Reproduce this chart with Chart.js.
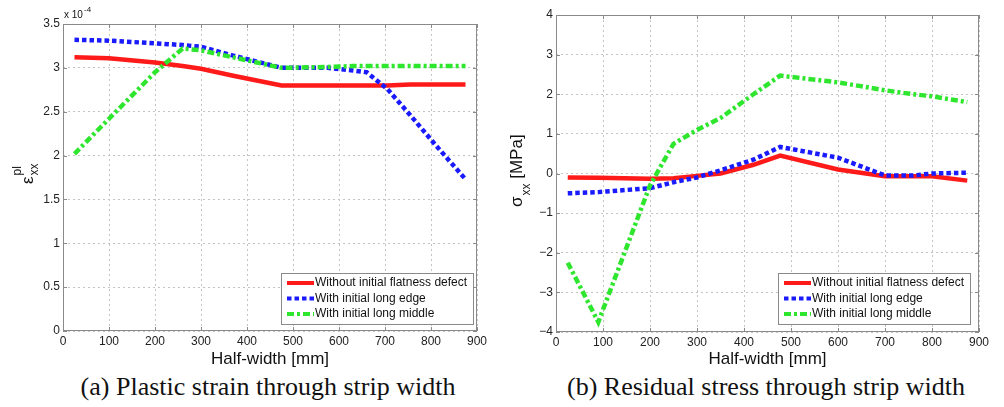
<!DOCTYPE html>
<html>
<head>
<meta charset="utf-8">
<script src="https://cdn.jsdelivr.net/npm/chart.js@4.4.1/dist/chart.umd.min.js"></script>
<style>
  html, body { margin: 0; padding: 0; background: #fff; }
  #wrap { position: relative; width: 1004px; height: 407px; overflow: hidden; }
  .panel { position: absolute; top: 0; height: 372px; }
  #left  { left: 0;     width: 500px; }
  #right { left: 500px; width: 504px; }
  .caption {
    position: absolute; top: 372px; line-height: 30px;
    font-family: "Liberation Serif", "Times New Roman", serif; font-size: 26px;
    color: #111; white-space: nowrap; transform: translateX(-50%);
  }
</style>
</head>
<body>
<div id="wrap">
  <div class="panel" id="left"><canvas id="strainChart"></canvas></div>
  <div class="panel" id="right"><canvas id="stressChart"></canvas></div>
  <div class="caption" style="left:268px">(a) Plastic strain through strip width</div>
  <div class="caption" style="left:766px">(b) Residual stress through strip width</div>
</div>
<script>
// ── Data ───────────────────────────────────────────────────────────
const seriesNames = ["Without initial flatness defect", "With initial long edge", "With initial long middle"]

const widthTicks  = [0, 100, 200, 300, 400, 500, 600, 700, 800, 900]
const strainTicks = [0, 0.5, 1, 1.5, 2, 2.5, 3, 3.5]          // x 10^-4
const stressTicks = [-4, -3, -2, -1, 0, 1, 2, 3, 4]             // MPa

// (a) plastic strain, x 10^-4
const strainX      = [25, 100, 200, 260, 300, 370, 475, 575, 630, 660, 705, 755, 810, 875]
const strainFlat   = [3.12, 3.11, 3.06, 3.02, 2.99, 2.91, 2.80, 2.80, 2.80, 2.80, 2.80, 2.81, 2.81, 2.81]
const strainEdge   = [3.32, 3.31, 3.28, 3.26, 3.24, 3.14, 3.00, 3.00, 2.97, 2.95, 2.76, 2.46, 2.12, 1.73]
const strainMiddle = [2.02, 2.42, 2.95, 3.22, 3.20, 3.12, 3.00, 3.01, 3.02, 3.02, 3.02, 3.02, 3.02, 3.02]

// (b) residual stress, MPa
const stressX      = [25, 90, 200, 250, 300, 350, 420, 477, 600, 700, 760, 800, 875]
const stressFlat   = [-0.10, -0.11, -0.13, -0.12, -0.06, 0.00, 0.22, 0.45, 0.10, -0.07, -0.07, -0.07, -0.18]
const stressEdge   = [-0.50, -0.47, -0.37, -0.22, -0.10, 0.08, 0.35, 0.67, 0.40, -0.05, -0.05, 0.00, 0.02]
const stressMiddle = [-2.25, -3.75, -0.30, 0.75, 1.10, 1.40, 2.00, 2.47, 2.30, 2.10, 2.00, 1.95, 1.80]

// ── Styling helpers ────────────────────────────────────────────────
const SANS = "'Liberation Sans', Arial, Helvetica, sans-serif"
const styles = [
  { color: "#ff1a1a", dash: [],           order: 2 },
  { color: "#1a1aff", dash: [4.5, 3],     order: 1 },
  { color: "#2ee62e", dash: [7, 3, 3, 3], order: 0 },
]

const toPoints = (xs, ys) => xs.map((x, i) => ({ x, y: ys[i] }))

const makeSets = (xs, lists) => lists.map((ys, i) => ({
  label: seriesNames[i],
  data: toPoints(xs, ys),
  borderColor: styles[i].color,
  borderDash: styles[i].dash,
  borderWidth: 4.5,
  borderCapStyle: "butt",
  pointRadius: 0,
  tension: 0,
  fill: false,
  order: styles[i].order,
}))

// MATLAB-ish frame: box, inward ticks, in-plot legend, rich y title
const matlabFrame = {
  id: "matlabFrame",
  afterDraw(chart, args, opts) {
    const { ctx, chartArea: a, scales: { x, y } } = chart
    const L = Math.round(a.left), R = Math.round(a.right)
    const T = Math.round(a.top),  B = Math.round(a.bottom)
    ctx.save()
    ctx.strokeStyle = "#8a8a8a"
    ctx.lineWidth = 1
    ctx.setLineDash([])
    ctx.beginPath()
    x.ticks.forEach(t => {
      const px = Math.round(x.getPixelForValue(t.value)) + 0.5
      ctx.moveTo(px, B); ctx.lineTo(px, B - 4)
      ctx.moveTo(px, T); ctx.lineTo(px, T + 4)
    })
    y.ticks.forEach(t => {
      const py = Math.round(y.getPixelForValue(t.value)) + 0.5
      ctx.moveTo(L, py); ctx.lineTo(L + 4, py)
      ctx.moveTo(R, py); ctx.lineTo(R - 4, py)
    })
    ctx.stroke()
    ctx.strokeRect(L + 0.5, T + 0.5, R - L - 1, B - T - 1)

    // legend
    const lg = opts.legend
    const bx = R - lg.right - lg.w, by = B - lg.bottom - lg.h
    ctx.fillStyle = "#fff"
    ctx.fillRect(bx, by, lg.w, lg.h)
    ctx.strokeRect(bx + 0.5, by + 0.5, lg.w, lg.h)
    ctx.font = `12px ${SANS}`
    ctx.textBaseline = "middle"
    chart.data.datasets.forEach((ds, i) => {
      const ry = by + 10 + i * 15.5
      ctx.save()
      ctx.strokeStyle = ds.borderColor
      ctx.lineWidth = 4
      ctx.lineCap = "butt"
      ctx.setLineDash(ds.borderDash)
      ctx.beginPath(); ctx.moveTo(bx + 6, ry); ctx.lineTo(bx + 33, ry); ctx.stroke()
      ctx.restore()
      ctx.fillStyle = "#111"
      ctx.fillText(ds.label, bx + 34, ry)
    })

    ctx.textBaseline = "alphabetic"
    ctx.fillStyle = "#111"
    opts.drawTitle(ctx)
    ctx.restore()
  }
}

const tickFont = { family: SANS, size: 12 }
const axisTitleFont = { family: SANS, size: 17 }

function buildOptions({ pad, yWidth, xHeight, yMin, yMax, yStep, yFmt, frame }) {
  return {
    responsive: true,
    maintainAspectRatio: false,
    animation: false,
    layout: { padding: pad },
    plugins: { legend: { display: false }, tooltip: { enabled: false }, matlabFrame: frame },
    scales: {
      x: {
        type: "linear",
        min: widthTicks[0], max: widthTicks[widthTicks.length - 1],
        ticks: { stepSize: widthTicks[1] - widthTicks[0], padding: 3, autoSkip: false, maxRotation: 0, font: tickFont, color: "#222" },
        grid: { color: "#c4c4c4", drawTicks: false },
        border: { display: false, dash: [2, 3] },
        title: { display: true, text: "Half-width [mm]", font: axisTitleFont, color: "#111", padding: { top: 0, bottom: 2 } },
        afterFit: s => { s.height = xHeight },
      },
      y: {
        type: "linear",
        min: yMin, max: yMax,
        ticks: { stepSize: yStep, padding: 3, autoSkip: false, font: tickFont, color: "#222", callback: yFmt },
        grid: { color: "#c4c4c4", drawTicks: false },
        border: { display: false, dash: [2, 3] },
        afterFit: s => { s.width = yWidth },
      }
    }
  }
}

// ── (a) Plastic strain ─────────────────────────────────────────────
new Chart(document.getElementById("strainChart"), {
  type: "line",
  data: { datasets: makeSets(strainX, [strainFlat, strainEdge, strainMiddle]) },
  options: buildOptions({
    pad: { left: 0, top: 24, right: 23, bottom: 0 },
    yWidth: 63, xHeight: 41,
    yMin: strainTicks[0], yMax: strainTicks[strainTicks.length - 1], yStep: 0.5,
    yFmt: v => String(v),
    frame: {
      legend: { w: 192, h: 51, right: 4, bottom: 7 },
      drawTitle(ctx) {
        ctx.save()
        ctx.translate(33, 184)
        ctx.rotate(-Math.PI / 2)
        ctx.font = `17px ${SANS}`
        ctx.fillText("\u03b5", 0, 0)
        const w = ctx.measureText("\u03b5").width + 1
        ctx.font = `12px ${SANS}`
        ctx.fillText("pl", w, -12)
        ctx.fillText("xx", w, 5)
        ctx.restore()
        // exponent above the axis
        ctx.font = `10px ${SANS}`
        ctx.fillText("x 10", 64, 18)
        ctx.font = `8px ${SANS}`
        ctx.fillText("-4", 84, 12)
      }
    }
  }),
  plugins: [matlabFrame]
})

// ── (b) Residual stress ────────────────────────────────────────────
new Chart(document.getElementById("stressChart"), {
  type: "line",
  data: { datasets: makeSets(stressX, [stressFlat, stressEdge, stressMiddle]) },
  options: buildOptions({
    pad: { left: 0, top: 15, right: 25, bottom: 0 },
    yWidth: 56, xHeight: 40,
    yMin: stressTicks[0], yMax: stressTicks[stressTicks.length - 1], yStep: 1,
    yFmt: v => String(v).replace("-", "\u2212"),
    frame: {
      legend: { w: 192, h: 51, right: 9, bottom: 8 },
      drawTitle(ctx) {
        ctx.save()
        ctx.translate(22, 207)
        ctx.rotate(-Math.PI / 2)
        ctx.font = `17px ${SANS}`
        ctx.fillText("\u03c3", 0, 0)
        let w = ctx.measureText("\u03c3").width + 1
        ctx.font = `12px ${SANS}`
        ctx.fillText("xx", w, 8)
        w += ctx.measureText("xx").width
        ctx.font = `17px ${SANS}`
        ctx.fillText(" [MPa]", w, 0)
        ctx.restore()
      }
    }
  }),
  plugins: [matlabFrame]
})
</script>
</body>
</html>
